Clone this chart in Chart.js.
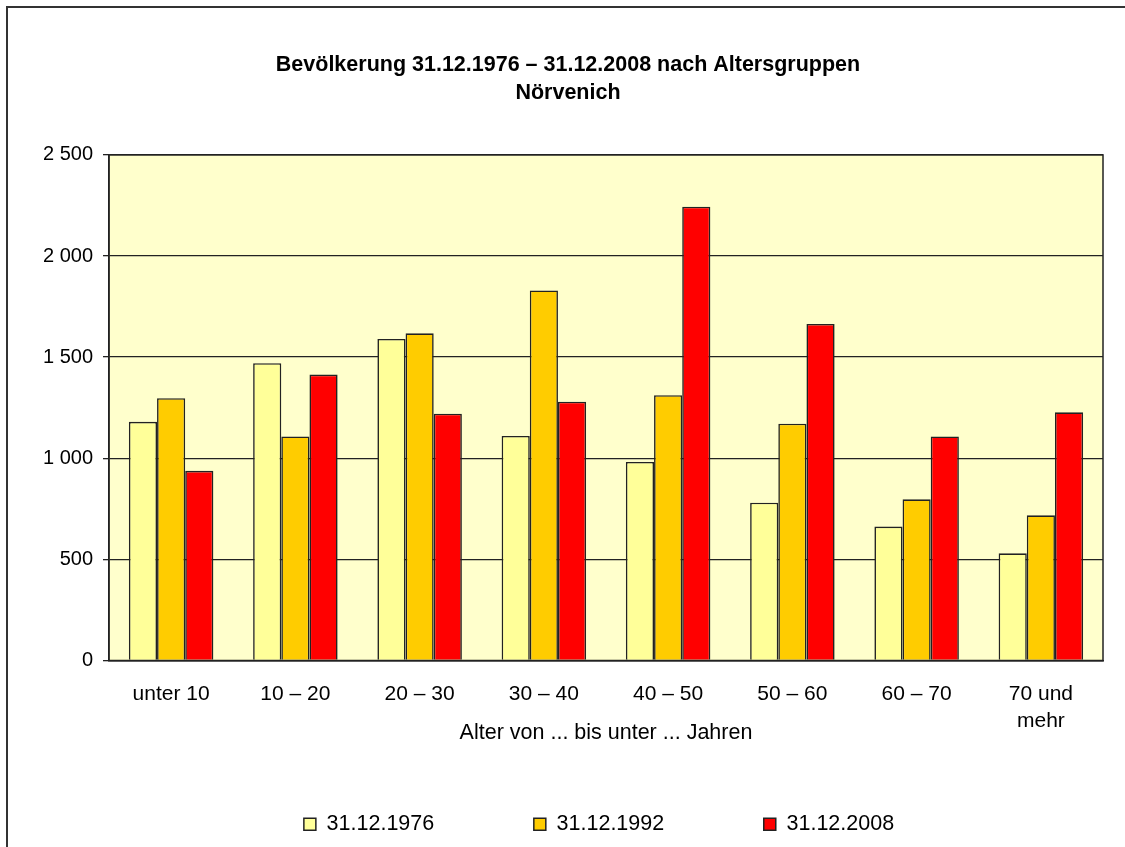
<!DOCTYPE html>
<html>
<head>
<meta charset="utf-8">
<script src="https://cdn.jsdelivr.net/npm/chart.js@4/dist/chart.umd.min.js"></script>
<style>
  html, body { margin: 0; padding: 0; background: #fff; }
  #wrap { width: 1125px; height: 847px; }
</style>
</head>
<body>
<div id="wrap"><canvas id="myChart" width="1125" height="847"></canvas></div>
<script>
const categories = ['unter 10', '10 – 20', '20 – 30', '30 – 40', '40 – 50', '50 – 60', '60 – 70', ['70 und', 'mehr']];
const seriesNames = ['31.12.1976', '31.12.1992', '31.12.2008'];
const values1976 = [1180, 1470, 1590, 1110, 982, 780, 662, 530];
const values1992 = [1297, 1108, 1618, 1830, 1312, 1171, 797, 718];
const values2008 = [938, 1414, 1220, 1280, 2244, 1664, 1108, 1227];
const yTicks = [0, 500, 1000, 1500, 2000, 2500];
const seriesColors = ['#FFFF99', '#FFCC00', '#FF0000'];

const fontFamily = "'Liberation Sans', Arial, sans-serif";
const dark = '#222';

function fmt(v) {
    return String(v).replace(/\B(?=(\d{3})+(?!\d))/g, ' ');
}

// plot background, frame around the chart area and the outer frame
const backdrop = {
    id: 'backdrop',
    afterLayout(chart) {
        // title and legend in the original sit a little right of centre
        chart.titleBlock.left += 12;
        chart.titleBlock.right += 12;
        chart.legend.left += 43;
        chart.legend.right += 43;
    },
    beforeDraw(chart) {
        const {ctx, chartArea: a} = chart;
        ctx.save();
        ctx.fillStyle = '#FFFFCC';
        ctx.fillRect(a.left, a.top, a.right - a.left, a.bottom - a.top);
        ctx.restore();
    },
    afterDraw(chart) {
        const {ctx, chartArea: a} = chart;
        ctx.save();
        ctx.strokeStyle = dark;
        ctx.lineWidth = 1.5;
        ctx.strokeRect(a.left, a.top, a.right - a.left, a.bottom - a.top);
        ctx.strokeStyle = '#333';
        ctx.lineWidth = 2;
        ctx.strokeRect(7, 7, 1300, 1300);
        ctx.restore();
    }
};

const allValues = [values1976, values1992, values2008];
// legend spacing: pad label texts except the last one
const legendGap = '\u00a0'.repeat(15);

const ctx = document.getElementById('myChart');
new Chart(ctx, {
    type: 'bar',
    data: {
        labels: categories,
        datasets: seriesNames.map((name, i) => ({
            label: name,
            data: allValues[i],
            backgroundColor: seriesColors[i],
            borderColor: dark,
            borderWidth: 1.6,
            barPercentage: 1,
            categoryPercentage: 0.68
        }))
    },
    options: {
        responsive: false,
        animation: false,
        layout: { padding: { left: 9, right: 22, top: 0, bottom: 2 } },
        plugins: {
            title: {
                display: true,
                text: ['Bevölkerung 31.12.1976 – 31.12.2008 nach Altersgruppen', 'Nörvenich'],
                color: '#000',
                font: { family: fontFamily, size: 21.5, weight: 'bold', lineHeight: 1.3 },
                padding: { top: 51, bottom: 48 }
            },
            legend: {
                position: 'bottom',
                labels: {
                    color: '#000',
                    font: { family: fontFamily, size: 21.5 },
                    boxWidth: 12,
                    boxHeight: 12,
                    padding: 10,
                    generateLabels(chart) {
                        return chart.data.datasets.map((ds, i) => ({
                            text: ds.label + (i < chart.data.datasets.length - 1 ? legendGap : ''),
                            fillStyle: ds.backgroundColor,
                            strokeStyle: dark,
                            lineWidth: 1.5,
                            datasetIndex: i,
                            hidden: false
                        }));
                    }
                }
            },
            tooltip: { enabled: false }
        },
        scales: {
            y: {
                min: 0,
                max: 2500,
                afterBuildTicks: s => { s.ticks = yTicks.map(v => ({ value: v })); },
                afterFit: s => { s.width = 100; },
                ticks: {
                    color: '#000',
                    font: { family: fontFamily, size: 20 },
                    padding: 10,
                    callback: v => fmt(v)
                },
                grid: { color: dark, lineWidth: 1.3, tickLength: 6, drawTicks: true },
                border: { display: true, color: dark, width: 1.5 }
            },
            x: {
                afterFit: s => { s.height = 143; },
                ticks: {
                    color: '#000',
                    font: { family: fontFamily, size: 21, lineHeight: 1.3 },
                    padding: 20,
                    maxRotation: 0
                },
                grid: { display: false, drawTicks: false },
                border: { display: true, color: dark, width: 1.5 },
                title: {
                    display: true,
                    text: 'Alter von ... bis unter ... Jahren',
                    color: '#000',
                    font: { family: fontFamily, size: 21.5 },
                    padding: { top: 0, bottom: 57.5 }
                }
            }
        }
    },
    plugins: [backdrop]
});
</script>
</body>
</html>
